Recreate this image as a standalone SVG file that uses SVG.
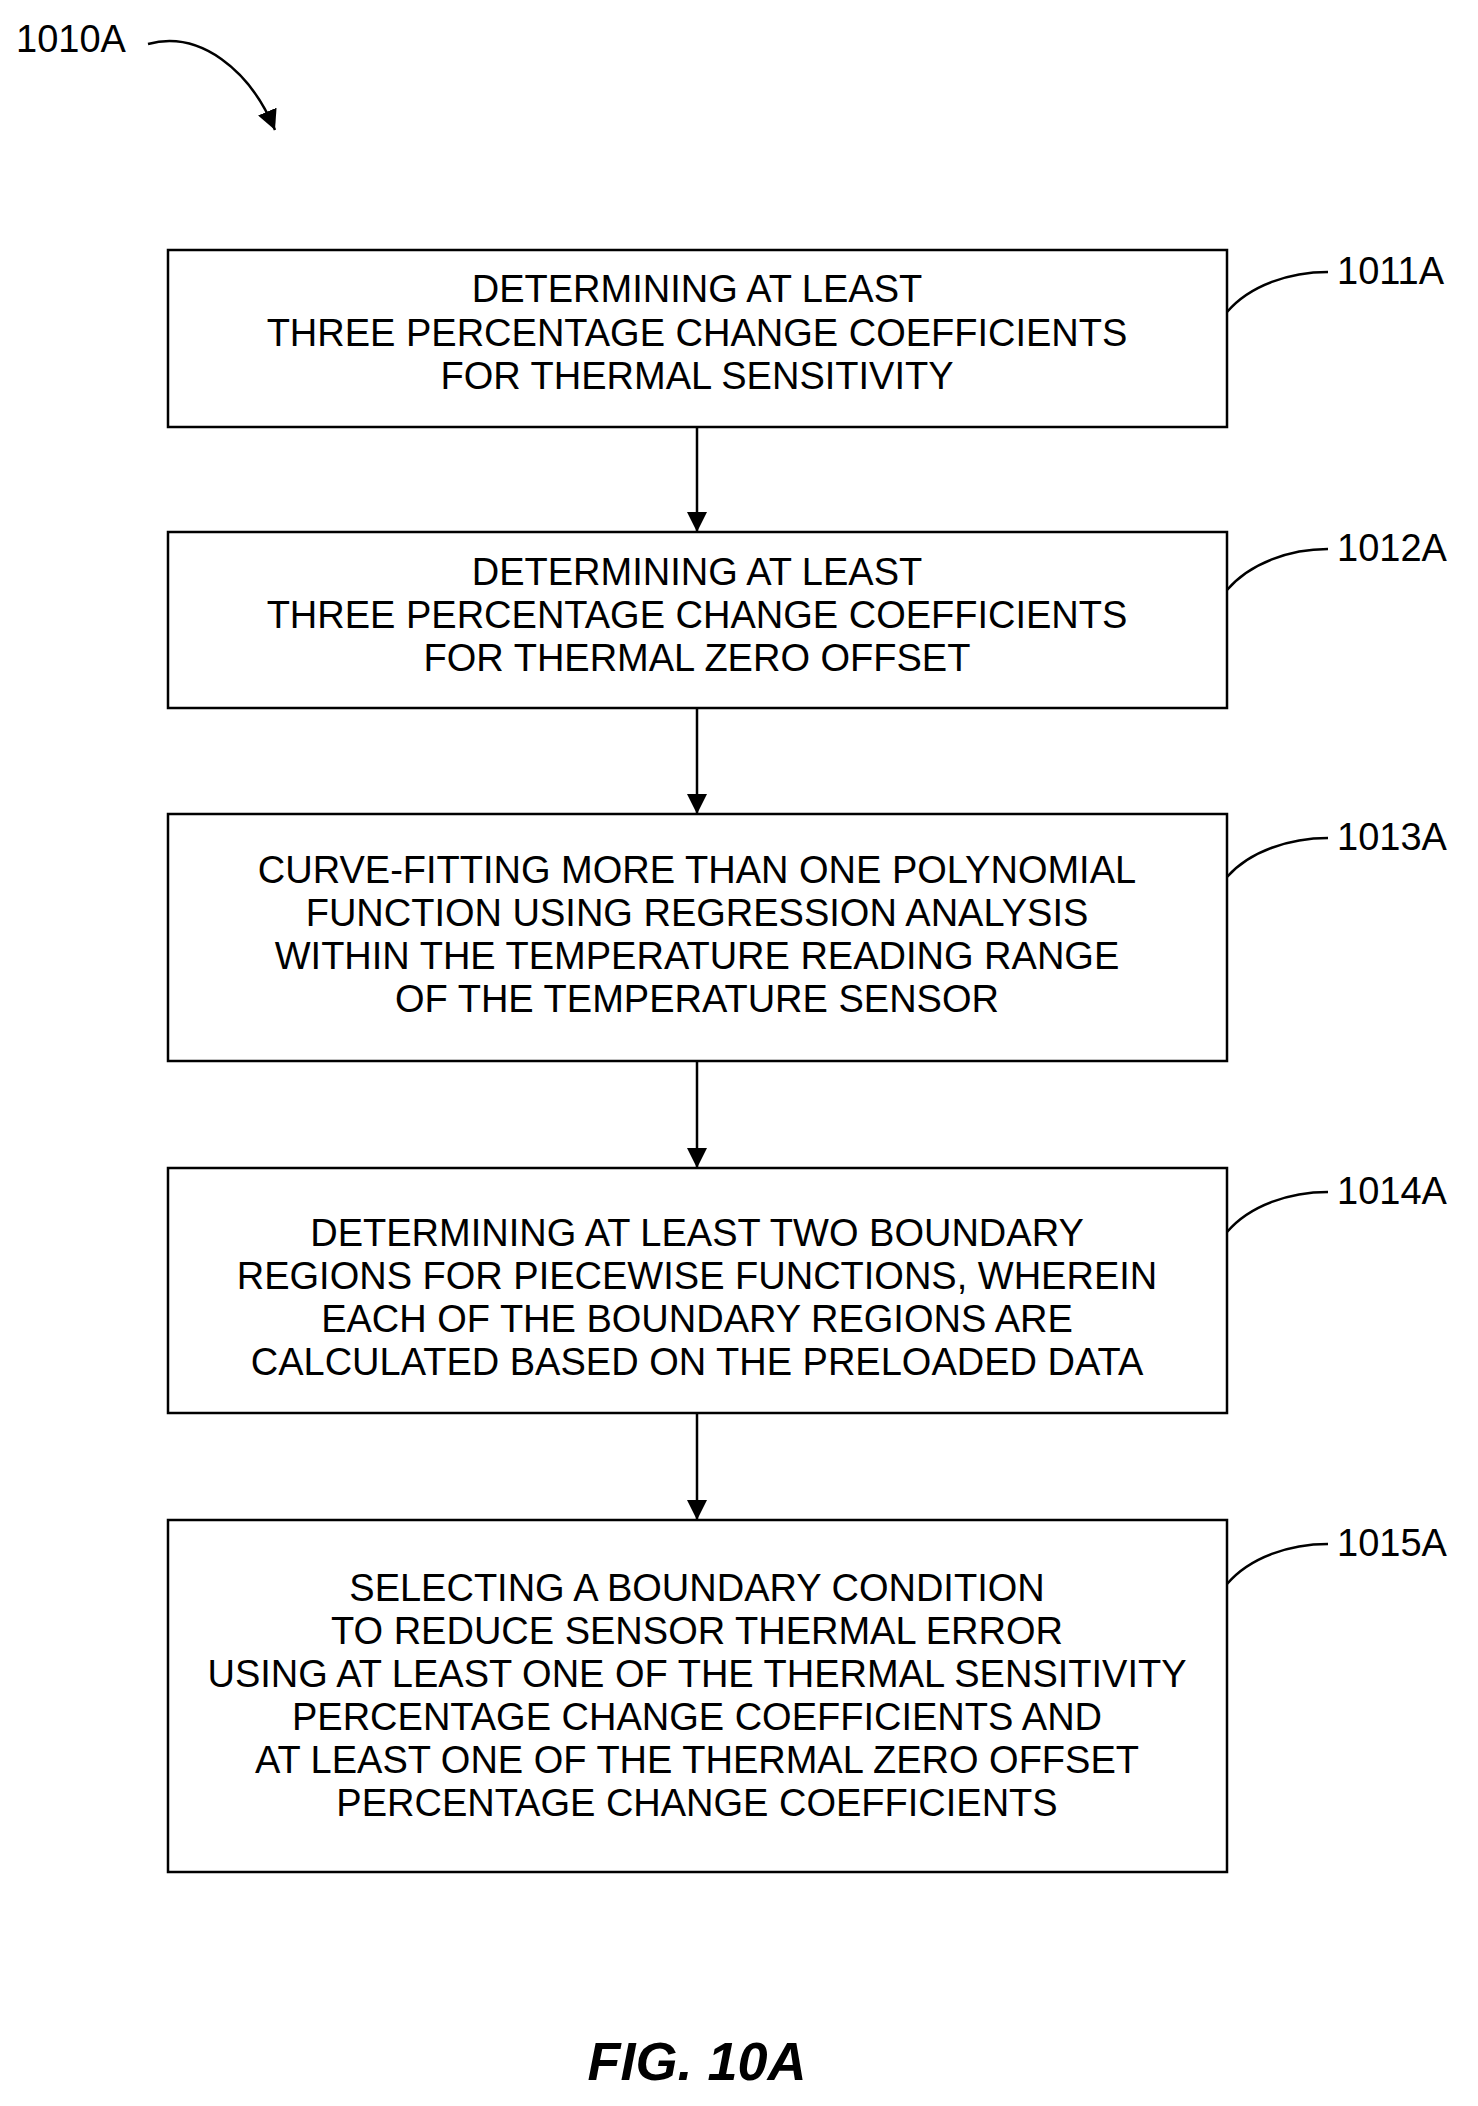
<svg xmlns="http://www.w3.org/2000/svg" width="1478" height="2106" viewBox="0 0 1478 2106">
<defs>
<style>
.b{fill:#fff;stroke:#000;stroke-width:2.5}
.t{font-family:"Liberation Sans",Arial,sans-serif;font-size:38px;text-anchor:middle;fill:#000}
.l{font-family:"Liberation Sans",Arial,sans-serif;font-size:38px;fill:#000}
.c{fill:none;stroke:#000;stroke-width:2.5}
</style>
<marker id="a" viewBox="0 0 10 10" refX="10" refY="5" markerWidth="8" markerHeight="8" markerUnits="userSpaceOnUse" orient="auto"><path d="M0,0L10,5L0,10z"/></marker>
<marker id="ah" viewBox="0 0 10 10" refX="10" refY="5" markerWidth="20" markerHeight="20" markerUnits="userSpaceOnUse" orient="auto"><path d="M0,0L10,5L0,10z"/></marker>
</defs>
<rect width="1478" height="2106" fill="#fff"/>
<text class="l" x="16" y="52">1010A</text>
<path class="c" d="M148,44 C200,30 250,70 275,130" marker-end="url(#ah)"/>
<g id="n1"><rect class="b" x="168" y="250" width="1059" height="177"/>
<text class="t" x="697" y="302">DETERMINING AT LEAST</text>
<text class="t" x="697" y="346">THREE PERCENTAGE CHANGE COEFFICIENTS</text>
<text class="t" x="697" y="389">FOR THERMAL SENSITIVITY</text>
<text class="l" x="1337" y="284">1011A</text>
<path class="c" d="M1227,312 C1250,285 1290,272 1328,272"/></g>
<g id="n2"><rect class="b" x="168" y="532" width="1059" height="176"/>
<text class="t" x="697" y="585">DETERMINING AT LEAST</text>
<text class="t" x="697" y="628">THREE PERCENTAGE CHANGE COEFFICIENTS</text>
<text class="t" x="697" y="671">FOR THERMAL ZERO OFFSET</text>
<text class="l" x="1337" y="561">1012A</text>
<path class="c" d="M1227,590 C1250,563 1290,549 1328,549"/></g>
<g id="n3"><rect class="b" x="168" y="814" width="1059" height="247"/>
<text class="t" x="697" y="883">CURVE-FITTING MORE THAN ONE POLYNOMIAL</text>
<text class="t" x="697" y="926">FUNCTION USING REGRESSION ANALYSIS</text>
<text class="t" x="697" y="969">WITHIN THE TEMPERATURE READING RANGE</text>
<text class="t" x="697" y="1012">OF THE TEMPERATURE SENSOR</text>
<text class="l" x="1337" y="850">1013A</text>
<path class="c" d="M1227,877 C1250,851 1290,838 1328,838"/></g>
<g id="n4"><rect class="b" x="168" y="1168" width="1059" height="245"/>
<text class="t" x="697" y="1246">DETERMINING AT LEAST TWO BOUNDARY</text>
<text class="t" x="697" y="1289">REGIONS FOR PIECEWISE FUNCTIONS, WHEREIN</text>
<text class="t" x="697" y="1332">EACH OF THE BOUNDARY REGIONS ARE</text>
<text class="t" x="697" y="1375">CALCULATED BASED ON THE PRELOADED DATA</text>
<text class="l" x="1337" y="1204">1014A</text>
<path class="c" d="M1227,1232 C1250,1205 1290,1192 1328,1192"/></g>
<g id="n5"><rect class="b" x="168" y="1520" width="1059" height="352"/>
<text class="t" x="697" y="1601">SELECTING A BOUNDARY CONDITION</text>
<text class="t" x="697" y="1644">TO REDUCE SENSOR THERMAL ERROR</text>
<text class="t" x="697" y="1687">USING AT LEAST ONE OF THE THERMAL SENSITIVITY</text>
<text class="t" x="697" y="1730">PERCENTAGE CHANGE COEFFICIENTS AND</text>
<text class="t" x="697" y="1773">AT LEAST ONE OF THE THERMAL ZERO OFFSET</text>
<text class="t" x="697" y="1816">PERCENTAGE CHANGE COEFFICIENTS</text>
<text class="l" x="1337" y="1556">1015A</text>
<path class="c" d="M1227,1584 C1250,1557 1290,1544 1328,1544"/></g>
<g id="connectors">
<path class="c" d="M697,427V532" marker-end="url(#ah)"/>
<path class="c" d="M697,708V814" marker-end="url(#ah)"/>
<path class="c" d="M697,1061V1168" marker-end="url(#ah)"/>
<path class="c" d="M697,1413V1520" marker-end="url(#ah)"/>
</g>
<text x="697" y="2080" text-anchor="middle" font-family="Liberation Sans,Arial,sans-serif" font-size="54" font-weight="bold" font-style="italic">FIG. 10A</text>
</svg>
